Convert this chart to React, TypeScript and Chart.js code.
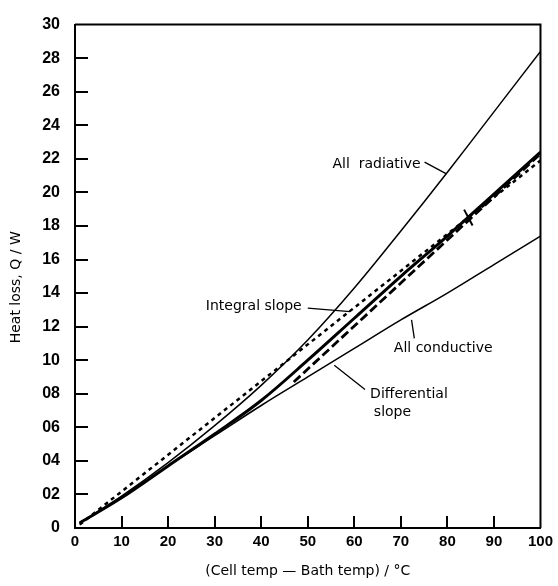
import React, { useEffect, useRef } from "react";
import { Chart, registerables } from "chart.js";

Chart.register(...registerables);

// ---- data ----
const xValues = [1, 10, 20, 30, 40, 50, 60, 70, 80, 90, 100];
const allRadiative = [0.3, 1.9, 3.9, 6.1, 8.5, 11.2, 14.3, 17.7, 21.2, 24.8, 28.4];
const measuredLoss = [0.3, 1.8, 3.7, 5.6, 7.6, 10.0, 12.5, 15.0, 17.4, 19.9, 22.4];
const allConductive = [0.3, 1.8, 3.7, 5.5, 7.3, 9.0, 10.7, 12.4, 14.0, 15.7, 17.4];
const integralX = [1, 100];
const integralSlope = [0.2, 21.9];
const differentialX = [47, 100];
const differentialSlope = [8.7, 22.3];
const markX = [84.5];
const markY = [18.5];

const xTickValues = [0, 10, 20, 30, 40, 50, 60, 70, 80, 90, 100];
const yTickValues = [0, 2, 4, 6, 8, 10, 12, 14, 16, 18, 20, 22, 24, 26, 28, 30];
const yTickLabels = ["0", "02", "04", "06", "08", "10", "12", "14", "16", "18", "20", "22", "24", "26", "28", "30"];

const xTitle = "(Cell temp \u2014 Bath temp) / \u00b0C";
const yTitle = "Heat loss, Q / W";

// annotation texts (anchored in data units)
const noteTexts = ["All  radiative", "Integral slope", "All conductive", "Differential", "slope"];
const noteX = [55.3, 28.1, 68.5, 63.4, 64.2];
const noteY = [21.7, 13.2, 10.7, 7.95, 6.9];
// leader lines (data units)
const leaderX1 = [75.1, 50.0, 72.3, 55.7];
const leaderY1 = [21.8, 13.1, 12.4, 9.7];
const leaderX2 = [79.8, 59.1, 72.9, 62.3];
const leaderY2 = [21.1, 12.9, 11.3, 8.25];

const toPoints = (xs: number[], ys: number[]) => xs.map((x, i) => ({ x, y: ys[i] }));

const FONT = "'DejaVu Sans', 'Liberation Sans', sans-serif";

const decorPlugin = {
  id: "decor",
  afterDatasetsDraw(chart: any) {
    const ctx = chart.ctx as CanvasRenderingContext2D;
    const xs = chart.scales.x;
    const ys = chart.scales.y;
    const area = chart.chartArea;
    ctx.save();
    ctx.strokeStyle = "#000";
    ctx.fillStyle = "#000";
    ctx.lineCap = "butt";
    // frame: top and right
    ctx.lineWidth = 2;
    ctx.beginPath();
    ctx.moveTo(area.left, area.top);
    ctx.lineTo(area.right, area.top);
    ctx.lineTo(area.right, area.bottom);
    ctx.stroke();
    // inward tick marks
    ctx.lineWidth = 2;
    yTickValues.forEach((v) => {
      if (v === 0 || v === 30) return;
      const py = Math.round(ys.getPixelForValue(v));
      ctx.beginPath();
      ctx.moveTo(area.left, py);
      ctx.lineTo(area.left + 13, py);
      ctx.stroke();
    });
    xTickValues.forEach((v) => {
      if (v === 0 || v === 100) return;
      const px = Math.round(xs.getPixelForValue(v));
      ctx.beginPath();
      ctx.moveTo(px, area.bottom);
      ctx.lineTo(px, area.bottom - 12);
      ctx.stroke();
    });
    // leader lines
    ctx.lineWidth = 1.3;
    leaderX1.forEach((x1, i) => {
      ctx.beginPath();
      ctx.moveTo(xs.getPixelForValue(x1), ys.getPixelForValue(leaderY1[i]));
      ctx.lineTo(xs.getPixelForValue(leaderX2[i]), ys.getPixelForValue(leaderY2[i]));
      ctx.stroke();
    });
    // notes
    ctx.font = `14px ${FONT}`;
    ctx.textAlign = "left";
    ctx.textBaseline = "middle";
    noteTexts.forEach((t, i) => {
      ctx.fillText(t, xs.getPixelForValue(noteX[i]), ys.getPixelForValue(noteY[i]));
    });
    // y title
    ctx.save();
    ctx.translate(16, (area.top + area.bottom) / 2 + 11);
    ctx.rotate(-Math.PI / 2);
    ctx.textAlign = "center";
    ctx.textBaseline = "middle";
    ctx.fillText(yTitle, 0, 0);
    ctx.restore();
    // x title
    ctx.textAlign = "center";
    ctx.textBaseline = "middle";
    ctx.fillText(xTitle, (area.left + area.right) / 2, 571);
    ctx.restore();
  },
};

export default function App() {
  const canvasRef = useRef<HTMLCanvasElement | null>(null);

  useEffect(() => {
    if (!canvasRef.current) return;
    const chart = new Chart(canvasRef.current, {
      type: "line",
      data: {
        datasets: [
          {
            label: "X",
            data: toPoints(markX, markY),
            showLine: false,
            pointStyle: "line",
            pointRotation: 62,
            pointRadius: 9,
            pointBorderWidth: 2,
            pointBorderColor: "#000",
            pointBackgroundColor: "#000",
          },
          {
            label: "Differential slope",
            data: toPoints(differentialX, differentialSlope),
            borderColor: "#000",
            borderWidth: 2.8,
            borderDash: [9, 4],
            pointRadius: 0,
          },
          {
            label: "Integral slope",
            data: toPoints(integralX, integralSlope),
            borderColor: "#000",
            borderWidth: 2.5,
            borderDash: [4, 4],
            pointRadius: 0,
          },
          {
            label: "Measured",
            data: toPoints(xValues, measuredLoss),
            borderColor: "#000",
            borderWidth: 3,
            pointRadius: 0,
            tension: 0.35,
          },
          {
            label: "All radiative",
            data: toPoints(xValues, allRadiative),
            borderColor: "#000",
            borderWidth: 1.5,
            pointRadius: 0,
            tension: 0.35,
          },
          {
            label: "All conductive",
            data: toPoints(xValues, allConductive),
            borderColor: "#000",
            borderWidth: 1.5,
            pointRadius: 0,
            tension: 0.35,
          },
        ],
      },
      options: {
        animation: false,
        responsive: true,
        maintainAspectRatio: false,
        devicePixelRatio: 1,
        layout: { padding: { top: 15, right: 13, left: 0, bottom: 0 } },
        plugins: {
          legend: { display: false },
          tooltip: { enabled: false },
          title: { display: false },
        },
        scales: {
          x: {
            type: "linear",
            min: 0,
            max: 100,
            afterBuildTicks: (scale: any) => {
              scale.ticks = xTickValues.map((v) => ({ value: v }));
            },
            afterFit: (scale: any) => {
              scale.height = 58;
            },
            grid: { display: false, drawTicks: false },
            border: { display: true, color: "#000", width: 2 },
            ticks: {
              color: "#000",
              padding: 5,
              maxRotation: 0,
              autoSkip: false,
              font: { family: "'Liberation Sans', Arial, sans-serif", size: 15, weight: "bold" },
            },
          },
          y: {
            type: "linear",
            min: 0,
            max: 30,
            afterBuildTicks: (scale: any) => {
              scale.ticks = yTickValues.map((v) => ({ value: v }));
            },
            afterFit: (scale: any) => {
              scale.width = 75;
            },
            grid: { display: false, drawTicks: false },
            border: { display: true, color: "#000", width: 2 },
            ticks: {
              color: "#000",
              padding: 15,
              autoSkip: false,
              font: { family: "'Liberation Sans', Arial, sans-serif", size: 16, weight: "bold" },
              callback: (value: any) => {
                const idx = yTickValues.indexOf(Number(value));
                return idx >= 0 ? yTickLabels[idx] : "";
              },
            },
          },
        },
      },
      plugins: [decorPlugin],
    });
    return () => chart.destroy();
  }, []);

  return (
    <div style={{ position: "absolute", left: 0, top: 0, width: 558, height: 586, background: "#fff" }}>
      <canvas ref={canvasRef} />
    </div>
  );
}
